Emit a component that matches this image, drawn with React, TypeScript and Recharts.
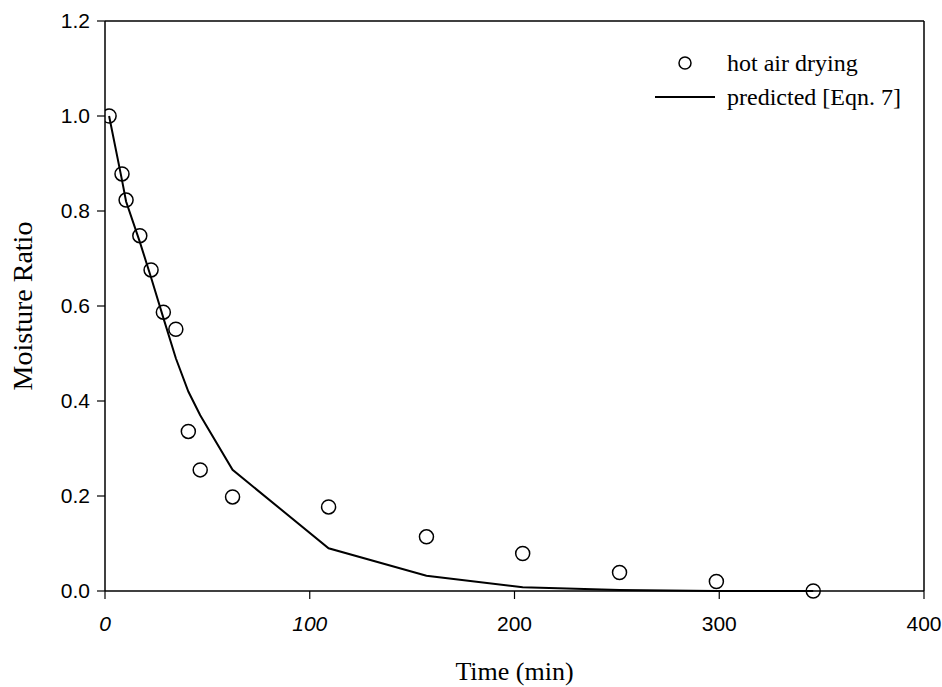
import {
  ComposedChart,
  Line,
  ReferenceLine,
  Scatter,
  XAxis,
  YAxis,
} from "recharts";

// drying time (min)
const timeMin = [2, 8.3, 10.3, 17, 22.5, 28.5, 34.6, 40.7, 46.5, 62.3, 109.2, 157, 204, 251.3, 298.6, 345.9];
// measured moisture ratio, hot air drying
const observedMR = [1.0, 0.878, 0.823, 0.748, 0.676, 0.587, 0.551, 0.336, 0.255, 0.198, 0.177, 0.114, 0.079, 0.039, 0.02, 0.0];
// model curve (Eqn. 7)
const predictedMR = [1.0, 0.865, 0.82, 0.735, 0.66, 0.575, 0.49, 0.42, 0.37, 0.255, 0.09, 0.032, 0.008, 0.002, 0.0, 0.0];

const xTicks = [0, 100, 200, 300, 400];
const yTicks = [0, 0.2, 0.4, 0.6, 0.8, 1.0, 1.2];

const observed = timeMin.map((t, i) => ({ t, mr: observedMR[i] }));
const predicted = timeMin.map((t, i) => ({ t, mr: predictedMR[i] }));

const serif = "'Liberation Serif', 'Times New Roman', serif";
const sans = "'Liberation Sans', Arial, sans-serif";

const XTick = ({ x, y, payload }) => (
  <text
    x={x}
    y={y}
    dy="0.71em"
    textAnchor="middle"
    fontFamily={sans}
    fontSize={21}
    fontStyle={payload.value < 200 ? "italic" : "normal"}
    fill="#000"
  >
    {payload.value}
  </text>
);

const YLabel = ({ viewBox }) => {
  const cx = viewBox.x + 32;
  const cy = viewBox.y + viewBox.height / 2;
  return (
    <text
      x={cx}
      y={cy}
      transform={`rotate(-90, ${cx}, ${cy})`}
      textAnchor="middle"
      fontFamily={serif}
      fontSize={28}
      fill="#000"
    >
      Moisture Ratio
    </text>
  );
};

// legend sits inside the plot box, top right
const LegendBox = () => (
  <div
    style={{
      position: "absolute",
      left: 655,
      top: 46,
      fontFamily: serif,
      fontSize: 24,
      color: "#000",
      lineHeight: "34px",
    }}
  >
    <div style={{ display: "flex", alignItems: "center" }}>
      <svg width={60} height={34}>
        <circle cx={30} cy={17} r={6} fill="none" stroke="#000" strokeWidth={1.5} />
      </svg>
      <span style={{ marginLeft: 12 }}>hot air drying</span>
    </div>
    <div style={{ display: "flex", alignItems: "center" }}>
      <svg width={60} height={34}>
        <line x1={0} y1={17} x2={60} y2={17} stroke="#000" strokeWidth={2} />
      </svg>
      <span style={{ marginLeft: 12 }}>predicted [Eqn. 7]</span>
    </div>
  </div>
);

export default function App() {
  return (
    <div style={{ position: "absolute", left: 0, top: 0, background: "#fff" }}>
      <ComposedChart
        width={942}
        height={687}
        margin={{ top: 21, right: 18, bottom: 0, left: 0 }}
      >
        <XAxis
          type="number"
          dataKey="t"
          domain={[0, 400]}
          ticks={xTicks}
          allowDataOverflow
          height={96}
          tickSize={8}
          tickMargin={17}
          tick={XTick}
          axisLine={{ stroke: "#000", strokeWidth: 1.5 }}
          tickLine={{ stroke: "#000", strokeWidth: 1.2 }}
          label={{
            value: "Time (min)",
            position: "insideBottom",
            offset: 7,
            fontFamily: serif,
            fontSize: 26,
            fill: "#000",
          }}
        />
        <YAxis
          type="number"
          dataKey="mr"
          domain={[0, 1.2]}
          ticks={yTicks}
          width={105}
          tickSize={8}
          tickMargin={7}
          tickFormatter={(v) => v.toFixed(1)}
          tick={{ fontFamily: sans, fontSize: 21, fill: "#000" }}
          axisLine={{ stroke: "#000", strokeWidth: 1.5 }}
          tickLine={{ stroke: "#000", strokeWidth: 1.2 }}
          label={YLabel}
        />
        <ReferenceLine y={1.2} stroke="#000" strokeWidth={1.5} ifOverflow="visible" />
        <ReferenceLine x={400} stroke="#000" strokeWidth={1.5} ifOverflow="visible" />
        <Scatter
          name="hot air drying"
          data={observed}
          dataKey="mr"
          fill="none"
          stroke="#000"
          strokeWidth={1.5}
          shape={(p) => (
            <circle cx={p.cx} cy={p.cy} r={7} fill="none" stroke="#000" strokeWidth={1.5} />
          )}
          isAnimationActive={false}
        />
        <Line
          name="predicted [Eqn. 7]"
          data={predicted}
          dataKey="mr"
          type="linear"
          stroke="#000"
          strokeWidth={2}
          dot={false}
          activeDot={false}
          isAnimationActive={false}
        />
      </ComposedChart>
      <LegendBox />
    </div>
  );
}
